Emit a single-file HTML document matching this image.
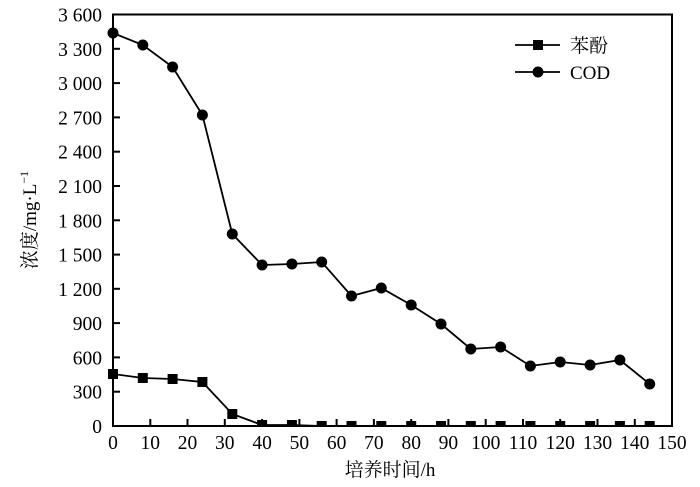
<!DOCTYPE html>
<html><head><meta charset="utf-8"><style>
html,body{margin:0;padding:0;background:#fff;}
svg{display:block;font-family:"Liberation Serif","Noto Serif CJK SC",serif;}
</style></head><body>
<svg width="700" height="487" viewBox="0 0 700 487">
<rect x="113" y="14.5" width="559" height="411.5" fill="none" stroke="#000" stroke-width="2"/>
<g stroke="#000" stroke-width="2">
<line x1="113" y1="391.7" x2="120" y2="391.7"/><line x1="113" y1="357.4" x2="120" y2="357.4"/>
<line x1="113" y1="323.1" x2="120" y2="323.1"/><line x1="113" y1="288.8" x2="120" y2="288.8"/>
<line x1="113" y1="254.6" x2="120" y2="254.6"/><line x1="113" y1="220.3" x2="120" y2="220.3"/>
<line x1="113" y1="186" x2="120" y2="186"/><line x1="113" y1="151.7" x2="120" y2="151.7"/>
<line x1="113" y1="117.4" x2="120" y2="117.4"/><line x1="113" y1="83.1" x2="120" y2="83.1"/>
<line x1="113" y1="48.8" x2="120" y2="48.8"/>
<line x1="150.3" y1="426" x2="150.3" y2="419"/><line x1="187.5" y1="426" x2="187.5" y2="419"/>
<line x1="224.8" y1="426" x2="224.8" y2="419"/><line x1="262.1" y1="426" x2="262.1" y2="419"/>
<line x1="299.4" y1="426" x2="299.4" y2="419"/><line x1="336.6" y1="426" x2="336.6" y2="419"/>
<line x1="373.9" y1="426" x2="373.9" y2="419"/><line x1="411.2" y1="426" x2="411.2" y2="419"/>
<line x1="448.4" y1="426" x2="448.4" y2="419"/><line x1="485.7" y1="426" x2="485.7" y2="419"/>
<line x1="523" y1="426" x2="523" y2="419"/><line x1="560.2" y1="426" x2="560.2" y2="419"/>
<line x1="597.5" y1="426" x2="597.5" y2="419"/><line x1="634.8" y1="426" x2="634.8" y2="419"/>
</g>
<g font-size="19.5" text-anchor="end">
<text x="102" y="433">0</text><text x="102" y="398.7">300</text><text x="102" y="364.4">600</text>
<text x="102" y="330.1">900</text><text x="102" y="295.8">1 200</text><text x="102" y="261.6">1 500</text>
<text x="102" y="227.3">1 800</text><text x="102" y="193">2 100</text><text x="102" y="158.7">2 400</text>
<text x="102" y="124.4">2 700</text><text x="102" y="90.1">3 000</text><text x="102" y="55.8">3 300</text>
<text x="102" y="21.5">3 600</text>
</g>
<g font-size="19.5" text-anchor="middle">
<text x="113" y="449">0</text><text x="150.3" y="449">10</text><text x="187.5" y="449">20</text>
<text x="224.8" y="449">30</text><text x="262.1" y="449">40</text><text x="299.4" y="449">50</text>
<text x="336.6" y="449">60</text><text x="373.9" y="449">70</text><text x="411.2" y="449">80</text>
<text x="448.4" y="449">90</text><text x="485.7" y="449">100</text><text x="523" y="449">110</text>
<text x="560.2" y="449">120</text><text x="597.5" y="449">130</text><text x="634.8" y="449">140</text>
<text x="672" y="449">150</text>
</g>
<text x="390" y="476" font-size="19" text-anchor="middle">培养时间/h</text>
<text transform="translate(36,220) rotate(-90)" font-size="19" text-anchor="middle">浓度/mg·L<tspan dy="-8" font-size="12">−1</tspan></text>
<polyline fill="none" stroke="#000" stroke-width="1.8" points="113,33 142.8,45 172.6,67 202.4,115 232.3,234 262.1,265 291.9,264 321.7,262 351.5,296 381.3,288 411.2,305 441,324 470.8,349 500.6,347 530.4,366 560.2,362 590.1,365 619.9,360 649.7,384"/>
<g fill="#000">
<circle cx="113" cy="33" r="5.5"/><circle cx="142.8" cy="45" r="5.5"/><circle cx="172.6" cy="67" r="5.5"/>
<circle cx="202.4" cy="115" r="5.5"/><circle cx="232.3" cy="234" r="5.5"/><circle cx="262.1" cy="265" r="5.5"/>
<circle cx="291.9" cy="264" r="5.5"/><circle cx="321.7" cy="262" r="5.5"/><circle cx="351.5" cy="296" r="5.5"/>
<circle cx="381.3" cy="288" r="5.5"/><circle cx="411.2" cy="305" r="5.5"/><circle cx="441" cy="324" r="5.5"/>
<circle cx="470.8" cy="349" r="5.5"/><circle cx="500.6" cy="347" r="5.5"/><circle cx="530.4" cy="366" r="5.5"/>
<circle cx="560.2" cy="362" r="5.5"/><circle cx="590.1" cy="365" r="5.5"/><circle cx="619.9" cy="360" r="5.5"/>
<circle cx="649.7" cy="384" r="5.5"/>
</g>
<polyline fill="none" stroke="#000" stroke-width="1.8" points="113,374 142.8,378 172.6,379 202.4,382 232.3,414 262.1,425 291.9,425 321.7,426 351.5,426 381.3,426 411.2,426 441,426 470.8,426 500.6,426 530.4,426 560.2,426 590.1,426 619.9,426 649.7,426"/>
<g fill="#000">
<rect x="108" y="369" width="10" height="10"/><rect x="137.8" y="373" width="10" height="10"/>
<rect x="167.6" y="374" width="10" height="10"/><rect x="197.4" y="377" width="10" height="10"/>
<rect x="227.3" y="409" width="10" height="10"/><rect x="257.1" y="420" width="10" height="7"/>
<rect x="286.9" y="420" width="10" height="7"/><rect x="316.7" y="421" width="10" height="6"/>
<rect x="346.5" y="421" width="10" height="6"/><rect x="376.3" y="421" width="10" height="6"/>
<rect x="406.2" y="421" width="10" height="6"/><rect x="436" y="421" width="10" height="6"/>
<rect x="465.8" y="421" width="10" height="6"/><rect x="495.6" y="421" width="10" height="6"/>
<rect x="525.4" y="421" width="10" height="6"/><rect x="555.2" y="421" width="10" height="6"/>
<rect x="585.1" y="421" width="10" height="6"/><rect x="614.9" y="421" width="10" height="6"/>
<rect x="644.7" y="421" width="10" height="6"/>
</g>
<line x1="515" y1="45" x2="560" y2="45" stroke="#000" stroke-width="1.8"/>
<rect x="533" y="40" width="10" height="10" fill="#000"/>
<line x1="515" y1="72" x2="560" y2="72" stroke="#000" stroke-width="1.8"/>
<circle cx="538" cy="72" r="5.5" fill="#000"/>
<text x="570" y="52" font-size="19">苯酚</text>
<text x="570" y="79" font-size="19">COD</text>
</svg>
</body></html>
